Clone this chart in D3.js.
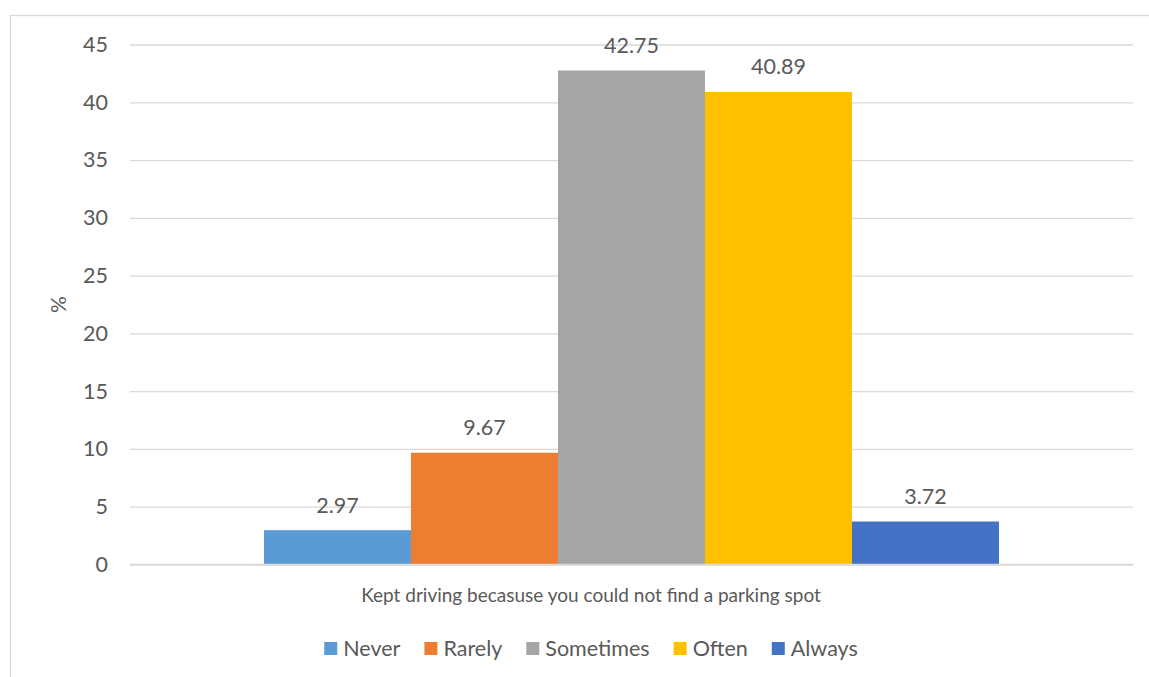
<!DOCTYPE html>
<html>
<head>
<meta charset="utf-8">
<script src="https://cdn.jsdelivr.net/npm/d3@7/dist/d3.min.js"></script>
<style>
  html, body { margin: 0; padding: 0; background: #ffffff; }
  svg { display: block; }
  text { font-family: Lato, "Open Sans", sans-serif; fill: #595959; }
</style>
</head>
<body>
<svg id="chart" width="1149" height="677"></svg>
<script>
// Survey responses (% of respondents) for a single question
const category = ["Kept driving becasuse you could not find a parking spot"];
const seriesNames = ["Never", "Rarely", "Sometimes", "Often", "Always"];
const seriesValues = [2.97, 9.67, 42.75, 40.89, 3.72];
const seriesColors = ["#5B9BD5", "#ED7D31", "#A5A5A5", "#FFC000", "#4472C4"];
const yTicks = [0, 5, 10, 15, 20, 25, 30, 35, 40, 45];
const yAxisTitle = "%";

const svg = d3.select("#chart");

// chart frame (extends past the right and bottom edges of the view)
const frame = { left: 10, top: 15, right: 1172, bottom: 700 };
svg.append("rect")
  .attr("x", frame.left + 0.5).attr("y", frame.top + 0.5)
  .attr("width", frame.right - frame.left).attr("height", frame.bottom - frame.top)
  .attr("fill", "#ffffff").attr("stroke", "#d9d9d9").attr("stroke-width", 1.3);

const plot = { left: 130, right: 1133, top: 44.5, bottom: 564.5 };
const centerX = (frame.left + frame.right) / 2;

const y = d3.scaleLinear().domain([0, 45]).range([plot.bottom, plot.top]);
const x0 = d3.scaleBand().domain(category).range([plot.left, plot.right])
  .paddingInner(0).paddingOuter(0.1823);
const x1 = d3.scaleBand().domain(seriesNames).range([0, x0.bandwidth()]).padding(0);

// gridlines + y tick labels
const yAxis = d3.axisLeft(y).tickValues(yTicks)
  .tickSize(-(plot.right - plot.left)).tickPadding(22).tickFormat(d3.format("d"));
const gy = svg.append("g").attr("transform", `translate(${plot.left},0)`).call(yAxis);
gy.select(".domain").remove();
gy.selectAll(".tick line").attr("stroke", "#d9d9d9").attr("stroke-width", 1.3);
gy.selectAll(".tick text").attr("font-size", 21.5).attr("fill", "#595959")
  .style("font-family", "Lato, 'Open Sans', sans-serif");

// bars
const groups = svg.append("g").selectAll("g").data(category).join("g")
  .attr("transform", d => `translate(${x0(d)},0)`);
const rows = seriesNames.map((n, i) => ({ name: n, value: seriesValues[i], color: seriesColors[i] }));
groups.selectAll("rect").data(rows).join("rect")
  .attr("x", d => x1(d.name))
  .attr("y", d => y(d.value))
  .attr("width", x1.bandwidth())
  .attr("height", d => y(0) - y(d.value))
  .attr("fill", d => d.color);

// value labels
groups.selectAll("text.val").data(rows).join("text")
  .attr("class", "val")
  .attr("x", d => x1(d.name) + x1.bandwidth() / 2)
  .attr("y", d => y(d.value) - 17.5)
  .attr("text-anchor", "middle")
  .attr("font-size", 21.5)
  .text(d => d.value.toFixed(2));

// baseline
svg.append("line")
  .attr("x1", plot.left).attr("x2", plot.right)
  .attr("y1", y(0)).attr("y2", y(0))
  .attr("stroke", "#d9d9d9").attr("stroke-width", 1.5);

// axis titles
svg.append("text")
  .attr("x", centerX).attr("y", 602)
  .attr("text-anchor", "middle").attr("font-size", 19)
  .text(category[0]);

svg.append("text")
  .attr("transform", `translate(66,${(plot.top + plot.bottom) / 2}) rotate(-90)`)
  .attr("text-anchor", "middle").attr("font-size", 21)
  .text(yAxisTitle);

// legend, laid out from measured label widths and centred under the chart
const legend = svg.append("g");
const sw = 13, gapText = 6, gapItem = 24;
let cursor = 0;
rows.forEach(d => {
  const item = legend.append("g").attr("transform", `translate(${cursor},0)`);
  item.append("rect").attr("x", 0).attr("y", 642).attr("width", sw).attr("height", sw).attr("fill", d.color);
  const t = item.append("text").attr("x", sw + gapText).attr("y", 656).attr("font-size", 21.5).text(d.name);
  cursor += sw + gapText + t.node().getComputedTextLength() + gapItem;
});
const legendWidth = cursor - gapItem;
legend.attr("transform", `translate(${centerX - legendWidth / 2},0)`);
</script>
</body>
</html>
